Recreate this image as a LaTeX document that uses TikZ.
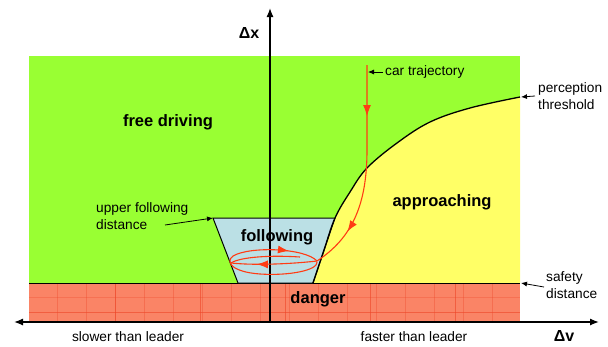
\documentclass[tikz,border=0pt]{standalone}
\usepackage{fontspec}
\setmainfont{Liberation Sans}
\usetikzlibrary{arrows.meta,decorations.markings}

\definecolor{freegreen}{RGB}{153,255,51}
\definecolor{approachyellow}{RGB}{255,255,102}
\definecolor{followblue}{RGB}{187,224,229}
\definecolor{dangerred}{RGB}{250,132,102}
\definecolor{gridred}{RGB}{238,70,40}
\definecolor{trajred}{RGB}{255,60,20}

\tikzset{
  region/.style={font=\fontsize{16.5}{18}\selectfont\bfseries, inner sep=0pt},
  note/.style={font=\fontsize{13.7}{16.5}\selectfont, align=left, inner sep=0pt},
  axislabel/.style={font=\fontsize{16}{18}\selectfont\bfseries, inner sep=0pt},
  pointer/.style={-{Latex[length=6pt,width=5pt]}, line width=0.8pt, black},
  axisline/.style={line width=1.3pt, black},
  traj/.style={trajred, line width=1.1pt},
  trajtip/.tip={Latex[length=11pt,width=8pt]},
  midarrow/.style={postaction={decorate, decoration={markings,
      mark=at position #1 with {\arrow{trajtip}}}}},
  twoarrows/.style 2 args={postaction={decorate, decoration={markings,
      mark=at position #1 with {\arrow{trajtip}},
      mark=at position #2 with {\arrow{trajtip}}}}}
}

\begin{document}
\begin{tikzpicture}[x=1pt, y=-1pt]
\useasboundingbox (0,0) rectangle (608,346);

% free driving zone
\fill[freegreen] (29,56) rectangle (520,283);

% approaching zone, right of the perception threshold
\fill[approachyellow] plot[smooth, tension=0.6] coordinates {(313,283) (324,250) (335,218)
  (350,192) (367,168) (397,143) (430,122) (470,108) (520,97)} -- (520,283) -- cycle;

% danger zone with its tile grid
\fill[dangerred] (29,283) rectangle (520,322);
\foreach \gx in {57,86,...,520}
  \draw[gridred, opacity=0.35, line width=0.6pt] (\gx,283) -- (\gx,322);
\foreach \gx in {115,200,285,370,455}
  \draw[gridred, opacity=0.6, line width=0.7pt] (\gx,283) -- (\gx,322);
\draw[gridred, opacity=0.6, line width=0.7pt] (29,312) -- (520,312);
\draw[gridred, opacity=0.3, line width=0.6pt] (29,297) -- (520,297);
\draw[line width=0.9pt] (29,283) -- (520,283);

% following zone
\draw[fill=followblue, line width=1pt] (213,218) -- (335,218) -- (313,283) -- (238,283) -- cycle;

% perception threshold curve
\draw[line width=1.3pt] plot[smooth, tension=0.6] coordinates {(313,283) (324,250) (335,218)
  (350,192) (367,168) (397,143) (430,122) (470,108) (520,97)};

% axes
\coordinate (xl) at (14,322);
\coordinate (xr) at (599,322);
\coordinate (yb) at (270,322);
\coordinate (yt) at (270,8);
\draw[axisline, {Latex[length=9pt,width=7pt]}-{Latex[length=9pt,width=7pt]}] (xl) -- (xr);
\draw[axisline, -{Latex[length=9pt,width=7pt]}] (yb) -- (yt);

% car trajectory: approach, then oscillation inside the following zone
\coordinate (c0) at (367,65);
\coordinate (c1) at (367,150);
\coordinate (c2) at (317,261);
\draw[traj, twoarrows={0.24}{0.8}] (c0) -- (c1) .. controls (367,205) and (352,238) .. (c2);
\draw[traj, midarrow=0.84] (317,262) .. controls (318,270) and (290,276) .. (260,274)
  .. controls (232,272) and (225,262) .. (233,256)
  .. controls (250,246) and (305,248) .. (317,261);
\draw[traj] (231,263) .. controls (240,257) and (270,255) .. (300,257);
\draw[traj, midarrow=0.7] (317,261) .. controls (300,263) and (260,266) .. (231,263);

% zone labels
\node[region] (free) at (168,122) {free driving};
\node[region] (follow) at (277,237) {following};
\node[region] (approach) at (442,202) {approaching};
\node[region] (danger) at (318,299) {danger};

% axis labels
\node[axislabel] (dx) at (249,33) {Δx};
\node[axislabel] (dv) at (564,336) {Δv};
\node[note] (slow) at (128,337) {slower than leader};
\node[note] (fast) at (414,337) {faster than leader};

% annotations
\node[note, anchor=west] (cartxt) at (385,72) {car trajectory};
\coordinate (cartip) at (368,72);
\draw[pointer] ([xshift=-2pt]cartxt.west) -- (cartip);

\node[note, anchor=west] (perc) at (538,96) {perception\\threshold};
\coordinate (perctip) at (521,97);
\draw[pointer] ([xshift=-3pt]perc.west) -- (perctip);

\node[note, anchor=west] (safe) at (546,285) {safety\\distance};
\coordinate (safetip) at (521,283);
\draw[pointer] ([xshift=-2pt,yshift=-2pt]safe.west) -- (safetip);

\node[note, anchor=west] (upper) at (96,216) {upper following\\distance};
\coordinate (uppertip) at (213,218);
\coordinate (upperfrom) at (165,225);
\draw[pointer] (upperfrom) -- (uppertip);
\end{tikzpicture}
\end{document}
